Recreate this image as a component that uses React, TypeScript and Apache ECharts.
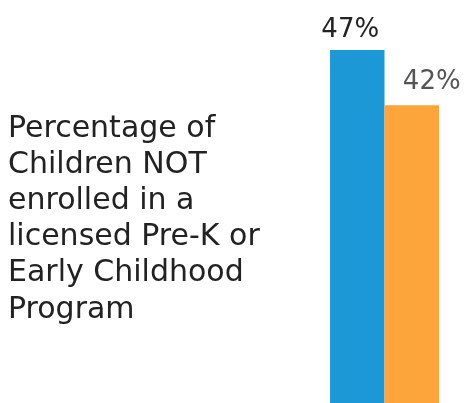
import React, { useEffect, useRef } from "react";
import * as echarts from "echarts";

const categories = ["Children"];
const seriesNames = ["Group A", "Group B"];
const valuesA = [47];
const valuesB = [42];
const titleLines = [
  "Percentage of",
  "Children NOT",
  "enrolled in a",
  "licensed Pre-K or",
  "Early Childhood",
  "Program",
];

export default function App() {
  const ref = useRef<HTMLDivElement>(null);
  useEffect(() => {
    if (!ref.current) return;
    const chart = echarts.init(ref.current, null, { renderer: "svg" });
    const font = "'DejaVu Sans', 'Noto Sans', sans-serif";
    chart.setOption({
      animation: false,
      grid: { left: 330, right: 33, top: 50, bottom: 0 },
      xAxis: {
        type: "category",
        data: categories,
        show: false,
      },
      yAxis: {
        type: "value",
        min: 15,
        max: 47,
        show: false,
      },
      graphic: [
        {
          type: "text",
          left: 8,
          top: 108,
          style: {
            text: titleLines.join("\n"),
            fontFamily: font,
            fontSize: 30,
            lineHeight: 36.2,
            fill: "#222222",
          },
        },
      ],
      series: [
        {
          name: seriesNames[0],
          type: "bar",
          data: valuesA,
          barGap: "0%",
          barCategoryGap: "0%",
          itemStyle: { color: "#1b98d5" },
          label: {
            show: true,
            position: "top",
            distance: 9,
            offset: [-7, 0],
            formatter: "{c}%",
            fontFamily: font,
            fontSize: 26,
            color: "#222222",
          },
        },
        {
          name: seriesNames[1],
          type: "bar",
          data: valuesB,
          barGap: "0%",
          barCategoryGap: "0%",
          itemStyle: { color: "#fba53a" },
          label: {
            show: true,
            position: "top",
            distance: 12,
            offset: [20, 0],
            formatter: "{c}%",
            fontFamily: font,
            fontSize: 26,
            color: "#555555",
          },
        },
      ],
    });
    return () => chart.dispose();
  }, []);
  return (
    <div
      ref={ref}
      style={{ position: "fixed", left: 0, top: 0, width: 472, height: 403 }}
    />
  );
}
